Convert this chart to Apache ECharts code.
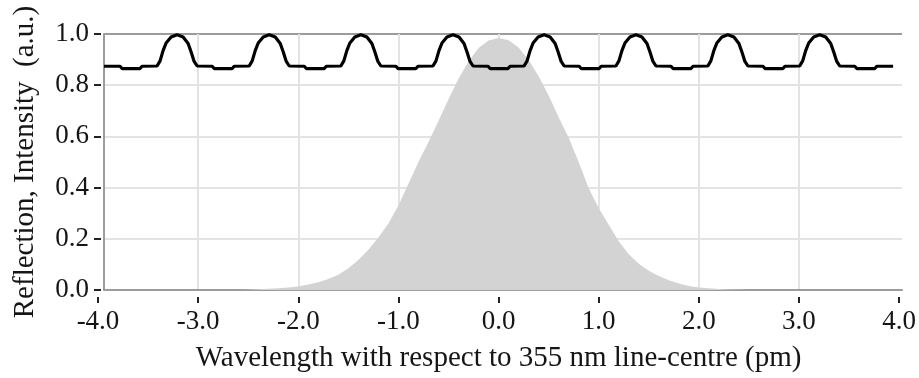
<!DOCTYPE html>
<html><head><meta charset="utf-8">
<script src="https://cdn.jsdelivr.net/npm/echarts@6/dist/echarts.min.js"></script>
<style>html,body{margin:0;padding:0;background:#fff}#c{width:919px;height:378px}</style>
</head><body><div id="c"></div>
<script>
// ---- data ----
const xTickValues = [-4, -3, -2, -1, 0, 1, 2, 3, 4];
const yTickValues = [0.0, 0.2, 0.4, 0.6, 0.8, 1.0];
const xTitle = 'Wavelength with respect to 355 nm line-centre (pm)';
const yTitle = 'Reflection, Intensity  (a.u.)';

// laser line intensity (grey area)
const spectrumX = [-4.0, -2.6, -2.5, -2.4, -2.3, -2.2, -2.1, -2.0, -1.9, -1.8, -1.7, -1.6, -1.5, -1.4, -1.3, -1.2, -1.1, -1.0,
  -0.9, -0.8, -0.7, -0.6, -0.5, -0.4, -0.3, -0.2, -0.1, 0.0, 0.1, 0.2, 0.3, 0.4, 0.5, 0.6, 0.7, 0.8, 0.9, 1.0,
  1.1, 1.2, 1.3, 1.4, 1.5, 1.6, 1.7, 1.8, 1.9, 2.0, 2.1, 2.2, 2.3, 2.4, 2.5, 2.6, 4.0];
const spectrumY = [0, 0, 0.001, 0.003, 0.005, 0.007, 0.010, 0.014, 0.021, 0.030, 0.043, 0.060, 0.085, 0.117, 0.157, 0.205, 0.260, 0.330,
  0.415, 0.500, 0.578, 0.660, 0.745, 0.825, 0.893, 0.945, 0.975, 0.984, 0.976, 0.947, 0.898, 0.835, 0.760, 0.675, 0.595, 0.500, 0.397, 0.320,
  0.255, 0.190, 0.140, 0.103, 0.075, 0.055, 0.038, 0.025, 0.016, 0.010, 0.007, 0.004, 0.002, 0.001, 0, 0, 0];

// etalon reflection (black line)
const reflectionX = [
  -3.94, -3.78, -3.76, -3.58, -3.56,
  -3.41, -3.38, -3.35, -3.32, -3.27, -3.21, -3.15, -3.10, -3.07, -3.04, -3.01,
  -2.86, -2.84, -2.66, -2.64,
  -2.49, -2.46, -2.43, -2.40, -2.35, -2.29, -2.23, -2.18, -2.15, -2.12, -2.09,
  -1.94, -1.92, -1.74, -1.72,
  -1.575, -1.545, -1.515, -1.485, -1.435, -1.375, -1.315, -1.265, -1.235, -1.205, -1.175,
  -1.025, -1.005, -0.825, -0.805,
  -0.655, -0.625, -0.595, -0.565, -0.515, -0.455, -0.395, -0.345, -0.315, -0.285, -0.255,
  -0.105, -0.085, 0.095, 0.115,
  0.255, 0.285, 0.315, 0.345, 0.395, 0.455, 0.515, 0.565, 0.595, 0.625, 0.655,
  0.805, 0.825, 1.005, 1.025,
  1.172, 1.202, 1.232, 1.262, 1.312, 1.372, 1.432, 1.482, 1.512, 1.542, 1.572,
  1.722, 1.742, 1.922, 1.942,
  2.09, 2.12, 2.15, 2.18, 2.23, 2.29, 2.35, 2.40, 2.43, 2.46, 2.49,
  2.64, 2.66, 2.84, 2.86,
  3.007, 3.037, 3.067, 3.097, 3.147, 3.207, 3.267, 3.317, 3.347, 3.377, 3.407,
  3.557, 3.577, 3.757, 3.777, 3.94];
const reflectionY = [
  0.874, 0.874, 0.865, 0.865, 0.874,
  0.875, 0.895, 0.935, 0.965, 0.988, 0.997, 0.988, 0.963, 0.930, 0.893, 0.875,
  0.874, 0.865, 0.865, 0.874,
  0.875, 0.895, 0.935, 0.965, 0.988, 0.997, 0.988, 0.963, 0.930, 0.893, 0.875,
  0.874, 0.865, 0.865, 0.874,
  0.875, 0.895, 0.935, 0.965, 0.988, 0.997, 0.988, 0.963, 0.930, 0.893, 0.875,
  0.874, 0.865, 0.865, 0.874,
  0.875, 0.895, 0.935, 0.965, 0.988, 0.997, 0.988, 0.963, 0.930, 0.893, 0.875,
  0.874, 0.865, 0.865, 0.874,
  0.875, 0.895, 0.935, 0.965, 0.988, 0.997, 0.988, 0.963, 0.930, 0.893, 0.875,
  0.874, 0.865, 0.865, 0.874,
  0.875, 0.895, 0.935, 0.965, 0.988, 0.997, 0.988, 0.963, 0.930, 0.893, 0.875,
  0.874, 0.865, 0.865, 0.874,
  0.875, 0.895, 0.935, 0.965, 0.988, 0.997, 0.988, 0.963, 0.930, 0.893, 0.875,
  0.874, 0.865, 0.865, 0.874,
  0.875, 0.895, 0.935, 0.965, 0.988, 0.997, 0.988, 0.963, 0.930, 0.893, 0.875,
  0.874, 0.865, 0.865, 0.874, 0.874];

// ---- chart ----
const FONT = "'Liberation Serif','Times New Roman',serif";
const TICK_FONT = 27;
const NAME_FONT = 29;
const fmt = v => Number(v).toFixed(1);
const frameColor = '#9c9c9c';
const gridColor = '#e3e3e3';

const chart = echarts.init(document.getElementById('c'), null, { renderer: 'canvas' });
chart.setOption({
  animation: false,
  backgroundColor: '#fff',
  grid: [
    { left: 98, right: 17, top: 34, bottom: 88 },
    { left: 104, right: 17, top: 34, bottom: 88 }
  ],
  xAxis: [
    {
      gridIndex: 0, type: 'value', min: xTickValues[0], max: xTickValues[xTickValues.length - 1], interval: 1, offset: 7,
      axisLine: { show: false, onZero: false },
      axisTick: { show: true, length: 6, lineStyle: { color: '#222', width: 2 } },
      axisLabel: { formatter: fmt, margin: 11, fontFamily: FONT, fontSize: TICK_FONT, color: '#151515' },
      splitLine: { show: true, showMinLine: false, showMaxLine: false, lineStyle: { color: gridColor, width: 2 } },
      name: xTitle, nameLocation: 'middle', nameGap: 47,
      nameTextStyle: { fontFamily: FONT, fontSize: NAME_FONT, color: '#151515' }
    },
    {
      gridIndex: 1, type: 'value', min: -3.94, max: 4,
      axisLine: { show: true, onZero: false, lineStyle: { color: frameColor, width: 2 } },
      axisTick: { show: false }, axisLabel: { show: false }, splitLine: { show: false }
    }
  ],
  yAxis: [
    {
      gridIndex: 0, type: 'value', min: yTickValues[0], max: yTickValues[yTickValues.length - 1], interval: 0.2, offset: -3,
      axisLine: { show: false, onZero: false },
      axisTick: { show: true, length: 7, lineStyle: { color: '#222', width: 2 } },
      axisLabel: { formatter: fmt, margin: 12, fontFamily: FONT, fontSize: TICK_FONT, color: '#151515' },
      splitLine: { show: false },
      name: yTitle, nameLocation: 'middle', nameGap: 61, nameRotate: 90,
      nameTextStyle: { fontFamily: FONT, fontSize: NAME_FONT, color: '#151515' }
    },
    {
      gridIndex: 1, type: 'value', min: 0, max: 1, interval: 0.2,
      axisLine: { show: true, onZero: false, lineStyle: { color: frameColor, width: 2 } },
      axisTick: { show: false }, axisLabel: { show: false },
      splitLine: { show: true, lineStyle: { color: [gridColor, gridColor, gridColor, gridColor, gridColor, frameColor], width: 2 } }
    }
  ],
  series: [
    {
      type: 'line', xAxisIndex: 0, yAxisIndex: 0, symbol: 'none', z: 2,
      data: spectrumX.map((x, i) => [x, spectrumY[i]]),
      lineStyle: { width: 0, color: '#d3d3d3' },
      areaStyle: { color: '#d3d3d3', opacity: 1 }
    },
    {
      type: 'line', xAxisIndex: 0, yAxisIndex: 0, symbol: 'none', z: 3,
      data: reflectionX.map((x, i) => [x, reflectionY[i]]),
      lineStyle: { width: 3.2, color: '#000' }
    }
  ]
});
</script>
</body></html>
